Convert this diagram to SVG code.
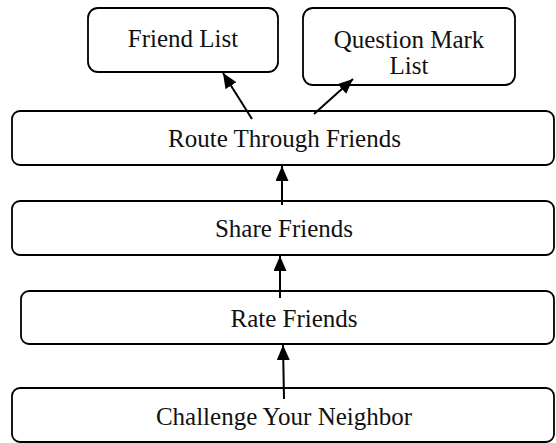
<svg xmlns="http://www.w3.org/2000/svg" width="556" height="443" viewBox="0 0 556 443">
<style>
.box{fill:#fff;stroke:#000;stroke-width:1.8}
.lbl{font-family:"Liberation Serif","Times New Roman",serif;font-size:25px;fill:#111;text-anchor:middle}
.edge{stroke:#000;stroke-width:2;fill:none;marker-end:url(#ah)}
</style>
<defs>
<marker id="ah" markerUnits="userSpaceOnUse" markerWidth="16" markerHeight="14" refX="15" refY="6.5" orient="auto">
<path d="M0,0 L15,6.5 L0,13 z" fill="#000"/>
</marker>
</defs>
<rect width="556" height="443" fill="#fff"/>
<g id="friend-list"><rect class="box" x="88" y="8" width="190" height="64" rx="10"/><text class="lbl" x="183" y="47">Friend List</text></g>
<g id="question-mark-list"><rect class="box" x="303" y="8" width="212" height="77" rx="10"/><text class="lbl" x="409" y="48">Question Mark</text><text class="lbl" x="409" y="74">List</text></g>
<g id="route-through-friends"><rect class="box" x="12" y="111" width="542" height="54" rx="8"/><text class="lbl" x="284.5" y="147">Route Through Friends</text></g>
<g id="share-friends"><rect class="box" x="12" y="201" width="542" height="54" rx="8"/><text class="lbl" x="284" y="237">Share Friends</text></g>
<g id="rate-friends"><rect class="box" x="21" y="291" width="533" height="53" rx="8"/><text class="lbl" x="294" y="327">Rate Friends</text></g>
<g id="challenge-your-neighbor"><rect class="box" x="12" y="388" width="542" height="54" rx="8"/><text class="lbl" x="284" y="425">Challenge Your Neighbor</text></g>
<g id="connectors">
<line class="edge" x1="252" y1="119" x2="223" y2="73"/>
<line class="edge" x1="314" y1="114" x2="353" y2="79"/>
<line class="edge" x1="282" y1="205" x2="282" y2="166"/>
<line class="edge" x1="280" y1="298" x2="280" y2="256"/>
<line class="edge" x1="284" y1="399" x2="283" y2="345"/>
</g>
</svg>
